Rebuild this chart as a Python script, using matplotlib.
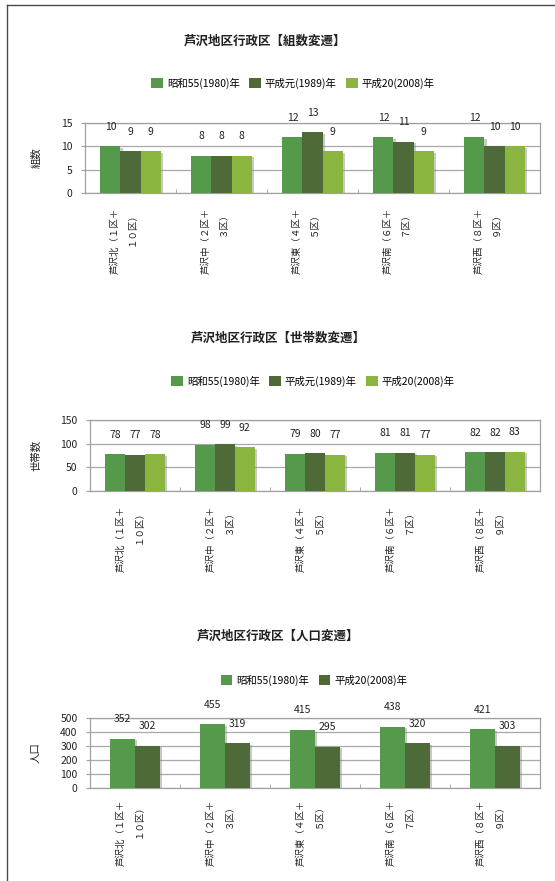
import matplotlib
matplotlib.use("Agg")
import matplotlib.pyplot as plt
import matplotlib.patheffects as pe
from matplotlib.lines import Line2D
from matplotlib.patches import Patch
import numpy as np

plt.rcParams['font.family'] = ['Noto Sans CJK JP', 'DejaVu Sans']

# ---- data ----
districts = ["芦沢北（１区＋\n１０区）", "芦沢中（２区＋\n３区）", "芦沢東（４区＋\n５区）",
             "芦沢南（６区＋\n７区）", "芦沢西（８区＋\n９区）"]
years3 = ["昭和55(1980)年", "平成元(1989)年", "平成20(2008)年"]
years2 = ["昭和55(1980)年", "平成20(2008)年"]

groups_1980 = [10, 8, 12, 12, 12]
groups_1989 = [9, 8, 13, 11, 10]
groups_2008 = [9, 8, 9, 9, 10]

households_1980 = [78, 98, 79, 81, 82]
households_1989 = [77, 99, 80, 81, 82]
households_2008 = [78, 92, 77, 77, 83]

population_1980 = [352, 455, 415, 438, 421]
population_2008 = [302, 319, 295, 320, 303]

colors3 = ["#559a4b", "#4e6a38", "#8ab53f"]
colors2 = ["#559a4b", "#4e6a38"]

W, H = 555, 881
fig = plt.figure(figsize=(W / 100, H / 100), dpi=100)
fig.patch.set_facecolor("white")

# page frame (top and left rules)
fig.add_artist(Line2D([7 / W, 1.0], [1 - 5 / H, 1 - 5 / H], transform=fig.transFigure,
                      color="#4a4a4a", lw=1.0))
fig.add_artist(Line2D([7 / W, 7 / W], [0, 1 - 5 / H], transform=fig.transFigure,
                      color="#4a4a4a", lw=1.0))


def px_axes(left, top, right, bottom):
    return fig.add_axes([left / W, 1 - bottom / H, (right - left) / W, (bottom - top) / H])


def draw_chart(box, series, colors, names, width, ymax, ystep, ylabel,
               title, title_x, title_y, legend_x, legend_y, ylabel_x, label_pad, label_shift):
    ax = px_axes(*box)
    x = np.arange(len(districts))
    n = len(series)
    shadow = [pe.SimplePatchShadow(offset=(1.5, -1.2), shadow_rgbFace="#888888", alpha=0.45),
              pe.Normal()]
    for i, (vals, c) in enumerate(zip(series, colors)):
        pos = x + (i - (n - 1) / 2) * width
        bars = ax.bar(pos, vals, width, color=c, zorder=3, label=names[i])
        for b in bars:
            b.set_path_effects(shadow)
        for p, v in zip(pos, vals):
            ax.annotate(str(v), (p, v), xytext=(0, 14), textcoords="offset points",
                        ha="center", va="center", fontsize=7.5, color="#222222")
    ax.set_xlim(-0.5, len(districts) - 0.5)
    ax.set_ylim(0, ymax)
    ax.set_yticks(np.arange(0, ymax + 1, ystep))
    ax.yaxis.grid(True, color="#a8a8a8", lw=0.9, zorder=0)
    ax.set_axisbelow(True)
    for s in ax.spines.values():
        s.set_color("#a0a0a0")
        s.set_linewidth(0.9)
    ax.tick_params(axis="y", length=3, color="#a0a0a0", labelsize=7.5, labelcolor="#222222", pad=6)
    # category labels sit a little left of the group centres
    px_per_unit = (box[2] - box[0]) / len(districts)
    ax.set_xticks(x + label_shift / px_per_unit)
    ax.set_xticklabels(districts, rotation=90, ha="center", va="top",
                       multialignment="right", fontsize=6.8, linespacing=2.2, color="#222222")
    ax.tick_params(axis="x", length=0, pad=label_pad)
    ax.set_xticks(np.arange(0.5, len(districts) - 0.5, 1.0), minor=True)
    ax.tick_params(axis="x", which="minor", direction="in", length=3, color="#a0a0a0")
    fig.text(ylabel_x / W, 1 - (box[1] + box[3]) / 2 / H, ylabel, rotation=90,
             ha="center", va="center", fontsize=7.5, color="#222222")
    fig.text(title_x / W, 1 - title_y / H, title, ha="center", va="center",
             fontsize=9, fontweight="bold", color="#222222")
    handles = [Patch(facecolor=c, edgecolor="none") for c in colors]
    fig.legend(handles, names, loc="center", bbox_to_anchor=(legend_x / W, 1 - legend_y / H),
               ncol=len(names), frameon=False, fontsize=7.5, handlelength=1.1,
               handleheight=1.1, handletextpad=0.4, columnspacing=0.9)
    return ax


draw_chart((85, 123, 540, 193), [groups_1980, groups_1989, groups_2008], colors3, years3,
           0.22, 15, 5, "組数", "芦沢地区行政区【組数変遷】", 265, 41, 293, 83, 37, 10.5, -7)
draw_chart((90, 420, 540, 491), [households_1980, households_1989, households_2008], colors3,
           years3, 0.22, 150, 50, "世帯数", "芦沢地区行政区【世帯数変遷】", 278, 338, 313, 381, 36, 10.5, -5)
draw_chart((90, 718, 540, 788), [population_1980, population_2008], colors2, years2,
           0.28, 500, 100, "人口", "芦沢地区行政区【人口変遷】", 278, 636, 314, 680, 36, 8.5, -5)

fig.savefig("out.png", dpi=100, facecolor="white")
